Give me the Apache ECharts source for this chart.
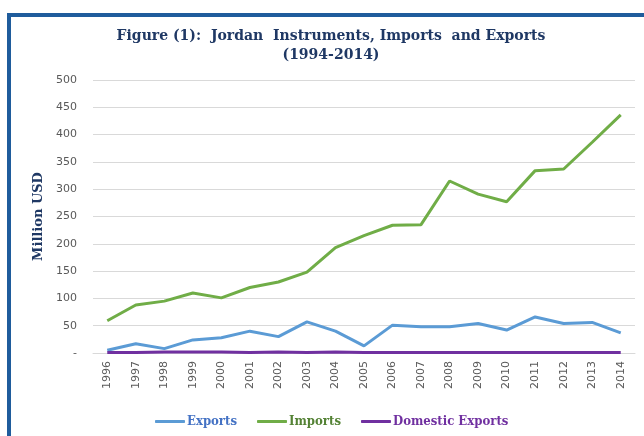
<!DOCTYPE html>
<html>
<head>
<meta charset="utf-8">
<script src="https://cdn.jsdelivr.net/npm/echarts@6/dist/echarts.min.js"></script>
<style>
  html, body { margin: 0; padding: 0; background: #fff; }
  #frame {
    position: absolute; left: 7px; top: 13px; width: 700px; height: 440px;
    border-left: 4px solid #1f5c9c; border-top: 4px solid #1f5c9c;
  }
  #chart { position: absolute; left: 0; top: 0; width: 644px; height: 436px; }
</style>
</head>
<body>
<div id="frame"></div>
<div id="chart"></div>
<script>
const years = ['1996','1997','1998','1999','2000','2001','2002','2003','2004','2005',
               '2006','2007','2008','2009','2010','2011','2012','2013','2014'];
const exportsData = [5, 17, 8, 24, 28, 40, 30, 57, 40, 13, 51, 48, 48, 54, 42, 66, 54, 56, 37];
const importsData = [59, 88, 95, 110, 101, 120, 130, 148, 193, 215, 234, 235, 315, 291, 277, 334, 337, 386, 436];
const domesticData = [1, 1, 2, 2, 2, 1, 2, 1, 2, 1, 1, 1, 1, 1, 1, 1, 1, 1, 1];

const serif = '"DejaVu Serif", serif';
const serifCond = '"DejaVu Serif Condensed", "DejaVu Serif", serif';
const navy = '#1f3864';

const chart = echarts.init(document.getElementById('chart'));

function line(name, data, color) {
    return {
        name: name, type: 'line', data: data, symbol: 'none',
        lineStyle: { color: color, width: 3 }, itemStyle: { color: color }
    };
}

chart.setOption({
    animation: false,
    title: {
        text: 'Figure (1):  Jordan  Instruments, Imports  and Exports\n(1994-2014)',
        left: 326, top: 22, textAlign: 'center',
        textStyle: { fontFamily: serif, fontWeight: 'bold', fontSize: 14, color: navy, lineHeight: 19 }
    },
    grid: { left: 93, right: 9, top: 80, bottom: 83 },
    xAxis: {
        type: 'category', data: years, boundaryGap: true,
        axisLine: { lineStyle: { color: '#d9d9d9' } },
        axisTick: { show: false },
        axisLabel: { rotate: 90, color: '#595959', fontSize: 11, fontFamily: 'DejaVu Sans', margin: 8 }
    },
    yAxis: {
        type: 'value', min: 0, max: 500, interval: 50,
        name: 'Million USD', nameLocation: 'middle', nameGap: 47, nameRotate: 90,
        nameTextStyle: { fontFamily: serif, fontWeight: 'bold', fontSize: 13, color: navy },
        axisLine: { show: false }, axisTick: { show: false },
        axisLabel: {
            color: '#595959', fontSize: 11, fontFamily: 'DejaVu Sans', margin: 16,
            formatter: v => v === 0 ? '-' : String(v)
        },
        splitLine: { lineStyle: { color: '#d9d9d9', width: 1 } }
    },
    legend: {
        bottom: 3, left: 150, itemGap: 20, itemWidth: 30, itemHeight: 3,
        icon: 'roundRect',
        data: [
            { name: 'Exports', textStyle: { color: '#4472c4' } },
            { name: 'Imports', textStyle: { color: '#548235' } },
            { name: 'Domestic Exports', textStyle: { color: '#7030a0' } }
        ],
        textStyle: { fontFamily: serifCond, fontWeight: 'bold', fontSize: 13, padding: [0, 0, 0, -3] }
    },
    series: [
        line('Exports', exportsData, '#5b9bd5'),
        line('Imports', importsData, '#70ad47'),
        line('Domestic Exports', domesticData, '#7030a0')
    ]
});
</script>
</body>
</html>
